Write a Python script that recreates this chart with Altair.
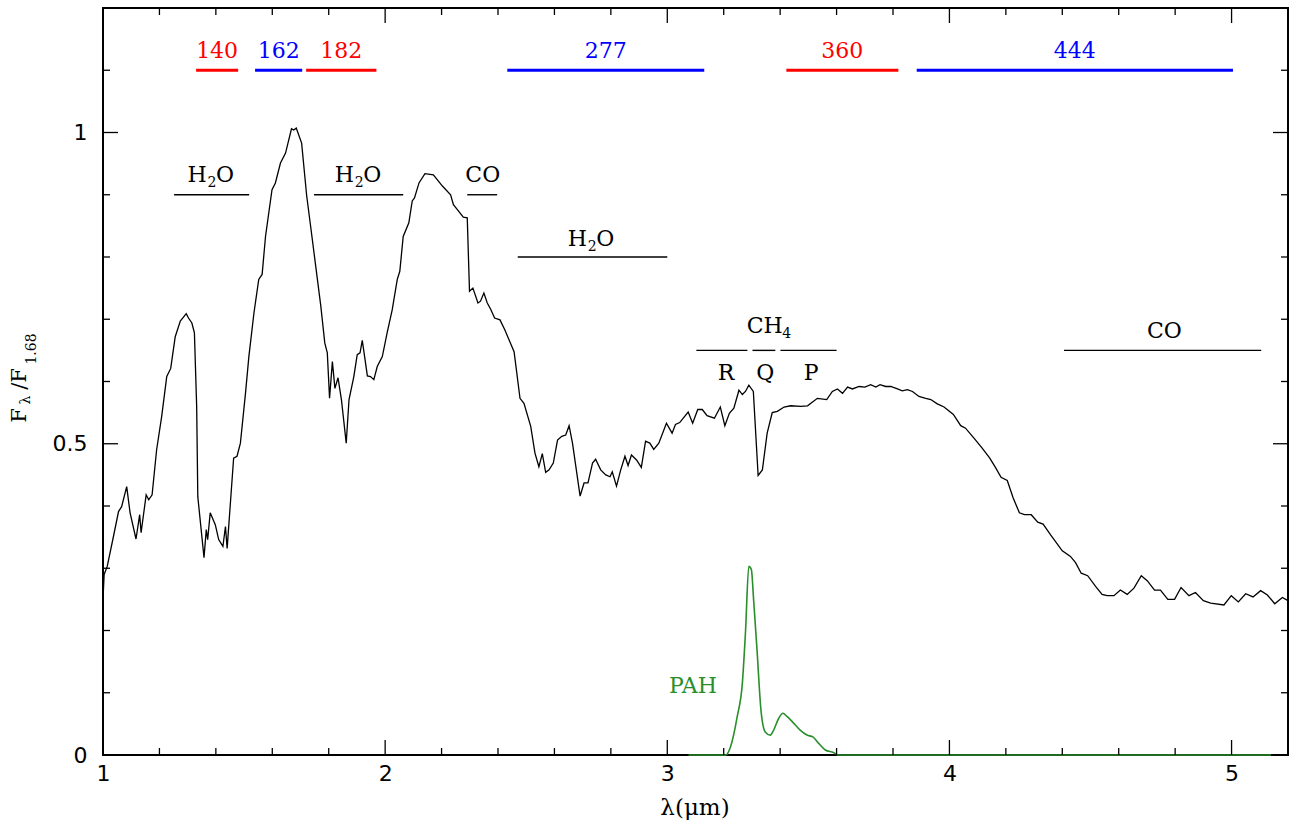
import altair as alt
import pandas as pd

# ---- spectrum (black) ----
lam = [1.000, 1.004, 1.015, 1.037, 1.055, 1.066, 1.084, 1.096, 1.117, 1.130, 1.135, 1.153, 1.162, 1.174,
       1.190, 1.208, 1.226, 1.240, 1.256, 1.274, 1.295, 1.303, 1.315, 1.324, 1.332, 1.336, 1.358, 1.366,
       1.371, 1.380, 1.398, 1.410, 1.425, 1.434, 1.440, 1.463, 1.475, 1.487, 1.505, 1.517, 1.535, 1.552,
       1.564, 1.576, 1.599, 1.611, 1.629, 1.647, 1.668, 1.676, 1.685, 1.704, 1.722, 1.736, 1.754, 1.772,
       1.786, 1.795, 1.803, 1.813, 1.822, 1.833, 1.845, 1.862, 1.872, 1.889, 1.901, 1.911, 1.919, 1.937,
       1.948, 1.960, 1.972, 1.990, 2.007, 2.025, 2.043, 2.052, 2.064, 2.084, 2.096, 2.104, 2.120, 2.141,
       2.171, 2.203, 2.232, 2.242, 2.256, 2.277, 2.291, 2.299, 2.311, 2.329, 2.338, 2.350, 2.362, 2.374,
       2.388, 2.407, 2.424, 2.457, 2.478, 2.492, 2.516, 2.531, 2.545, 2.557, 2.569, 2.581, 2.596, 2.611,
       2.626, 2.640, 2.652, 2.664, 2.691, 2.705, 2.719, 2.735, 2.746, 2.764, 2.782, 2.797, 2.805, 2.820,
       2.835, 2.850, 2.861, 2.873, 2.891, 2.908, 2.923, 2.938, 2.952, 2.970, 2.997, 3.017, 3.029, 3.044,
       3.074, 3.090, 3.108, 3.124, 3.141, 3.167, 3.188, 3.204, 3.220, 3.236, 3.254, 3.266, 3.277, 3.289,
       3.305, 3.322, 3.337, 3.354, 3.372, 3.390, 3.414, 3.437, 3.473, 3.497, 3.532, 3.565, 3.585, 3.603,
       3.621, 3.639, 3.656, 3.680, 3.700, 3.721, 3.739, 3.754, 3.774, 3.792, 3.816, 3.833, 3.851, 3.869,
       3.892, 3.916, 3.934, 3.957, 3.981, 4.014, 4.040, 4.057, 4.087, 4.116, 4.143, 4.163, 4.183, 4.205,
       4.226, 4.248, 4.266, 4.290, 4.313, 4.332, 4.358, 4.400, 4.429, 4.447, 4.467, 4.490, 4.518, 4.541,
       4.559, 4.583, 4.606, 4.630, 4.654, 4.680, 4.701, 4.727, 4.748, 4.774, 4.798, 4.821, 4.849, 4.872,
       4.900, 4.926, 4.973, 4.999, 5.024, 5.050, 5.076, 5.103, 5.127, 5.153, 5.180, 5.200]
flux = [0.250, 0.290, 0.303, 0.351, 0.391, 0.399, 0.431, 0.389, 0.347, 0.386, 0.357, 0.418, 0.410, 0.418,
        0.490, 0.544, 0.608, 0.621, 0.672, 0.697, 0.709, 0.702, 0.694, 0.678, 0.560, 0.415, 0.317, 0.362,
        0.346, 0.389, 0.370, 0.346, 0.335, 0.367, 0.332, 0.477, 0.480, 0.501, 0.581, 0.640, 0.710, 0.764,
        0.772, 0.833, 0.908, 0.919, 0.951, 0.967, 1.006, 1.004, 1.007, 0.983, 0.898, 0.849, 0.785, 0.721,
        0.662, 0.646, 0.573, 0.632, 0.589, 0.606, 0.571, 0.501, 0.571, 0.608, 0.643, 0.646, 0.666, 0.609,
        0.608, 0.603, 0.624, 0.640, 0.678, 0.715, 0.764, 0.777, 0.833, 0.855, 0.890, 0.895, 0.919, 0.934,
        0.932, 0.914, 0.900, 0.884, 0.876, 0.864, 0.863, 0.745, 0.750, 0.726, 0.729, 0.742, 0.726, 0.716,
        0.702, 0.699, 0.683, 0.648, 0.573, 0.565, 0.528, 0.485, 0.463, 0.484, 0.454, 0.458, 0.469, 0.506,
        0.512, 0.514, 0.529, 0.501, 0.416, 0.437, 0.437, 0.469, 0.475, 0.458, 0.450, 0.447, 0.455, 0.432,
        0.458, 0.480, 0.465, 0.482, 0.474, 0.462, 0.504, 0.501, 0.491, 0.501, 0.533, 0.517, 0.531, 0.534,
        0.551, 0.533, 0.555, 0.555, 0.545, 0.541, 0.559, 0.529, 0.549, 0.557, 0.586, 0.579, 0.584, 0.594,
        0.584, 0.449, 0.458, 0.517, 0.550, 0.552, 0.559, 0.561, 0.560, 0.561, 0.573, 0.571, 0.584, 0.588,
        0.581, 0.591, 0.588, 0.592, 0.591, 0.595, 0.591, 0.595, 0.592, 0.592, 0.588, 0.585, 0.587, 0.584,
        0.576, 0.573, 0.571, 0.564, 0.559, 0.547, 0.529, 0.525, 0.509, 0.493, 0.477, 0.462, 0.446, 0.441,
        0.413, 0.389, 0.386, 0.386, 0.374, 0.371, 0.354, 0.328, 0.319, 0.309, 0.292, 0.288, 0.271, 0.258,
        0.256, 0.256, 0.265, 0.258, 0.268, 0.288, 0.280, 0.265, 0.265, 0.250, 0.250, 0.269, 0.256, 0.261,
        0.248, 0.244, 0.241, 0.256, 0.246, 0.259, 0.254, 0.264, 0.257, 0.243, 0.253, 0.248]

# ---- PAH template (green) ----
pah_lam = [3.075, 3.207, 3.224, 3.248, 3.266, 3.277, 3.289, 3.298, 3.306, 3.318, 3.332, 3.347, 3.365,
           3.377, 3.395, 3.410, 3.424, 3.442, 3.471, 3.495, 3.516, 3.536, 3.560, 3.589, 3.607, 5.140]
pah_flux = [0.0, 0.0, 0.013, 0.062, 0.115, 0.196, 0.303, 0.298, 0.249, 0.169, 0.072, 0.037, 0.032,
            0.040, 0.059, 0.067, 0.062, 0.054, 0.040, 0.032, 0.029, 0.019, 0.008, 0.004, 0.0, 0.0]

# ---- filter bands (top) ----
band_labels = ["140", "162", "182", "277", "360", "444"]
band_lo = [1.330, 1.539, 1.720, 2.433, 3.422, 3.884]
band_hi = [1.479, 1.706, 1.969, 3.131, 3.819, 5.005]
band_colors = ["#ff0000", "#0000ff", "#ff0000", "#0000ff", "#ff0000", "#0000ff"]
band_level = 1.10
band_label_level = 1.119

# ---- molecular bands ----
mol_lo = [1.252, 1.748, 2.291, 2.470, 3.103, 3.302, 3.401, 4.406]
mol_hi = [1.518, 2.064, 2.397, 3.000, 3.284, 3.383, 3.600, 5.105]
mol_level = [0.90, 0.90, 0.90, 0.80, 0.65, 0.65, 0.65, 0.65]

# water labels (H2O with subscript)
h2o_x = [1.381, 1.903, 2.729]
h2o_y = [0.920, 0.920, 0.817]
# methane label (CH4 with subscript)
ch4_x = [3.361]
ch4_y = [0.678]
# plain labels
plain_text = ["CO", "R", "Q", "P", "CO"]
plain_x = [2.346, 3.208, 3.347, 3.510, 4.762]
plain_y = [0.920, 0.603, 0.603, 0.603, 0.670]

pah_text = ["PAH"]
pah_text_x = [3.091]
pah_text_y = [0.0997]

# ---- ticks ----
x_major = [1, 2, 3, 4, 5]
x_minor = [1.2, 1.4, 1.6, 1.8, 2.2, 2.4, 2.6, 2.8, 3.2, 3.4, 3.6, 3.8, 4.2, 4.4, 4.6, 4.8]
y_major = [0.0, 0.5, 1.0]
y_minor = [0.1, 0.2, 0.3, 0.4, 0.6, 0.7, 0.8, 0.9, 1.1]

W, H = 1185, 747
SERIF = "DejaVu Serif"
SANS = "DejaVu Sans"
FS = 22
SUB = 14

xs = alt.Scale(domain=[1, 5.2], nice=False, zero=False)
ys = alt.Scale(domain=[0, 1.2], nice=False, zero=False)
xaxis = alt.Axis(values=x_major, format="d", ticks=False, domain=False, grid=False, labelFlush=False,
                 labelFontSize=22, labelFont=SANS, labelColor="black", labelPadding=8, title=None)
yaxis = alt.Axis(values=y_major, format="~g", ticks=False, domain=False, grid=False, labelFlush=False,
                 labelFontSize=22, labelFont=SANS, labelColor="black", labelPadding=16, title=None)


def X(f):
    return alt.X(f, type="quantitative", scale=xs, axis=xaxis)


def Y(f):
    return alt.Y(f, type="quantitative", scale=ys, axis=yaxis)


spec_df = pd.DataFrame({"lam": lam, "flux": flux})
pah_df = pd.DataFrame({"lam": pah_lam, "flux": pah_flux})
band_df = pd.DataFrame({"lo": band_lo, "hi": band_hi, "lab": band_labels, "col": band_colors,
                        "mid": [(a + b) / 2 for a, b in zip(band_lo, band_hi)],
                        "lvl": [band_level] * len(band_lo), "tl": [band_label_level] * len(band_lo)})
mol_df = pd.DataFrame({"lo": mol_lo, "hi": mol_hi, "lvl": mol_level})
pahtext_df = pd.DataFrame({"x": pah_text_x, "y": pah_text_y, "t": pah_text})

spec = alt.Chart(spec_df).mark_line(color="black", strokeWidth=1.3).encode(x=X("lam"), y=Y("flux"))
pah = alt.Chart(pah_df).mark_line(color="#2a8f2a", strokeWidth=1.6, interpolate="monotone").encode(
    x=X("lam"), y=Y("flux"))

bands = alt.Chart(band_df).mark_rule(strokeWidth=3).encode(
    x=X("lo"), x2="hi", y=Y("lvl"), color=alt.Color("col:N", scale=None))
band_txt = alt.Chart(band_df).mark_text(font=SERIF, fontSize=FS, baseline="alphabetic", align="center").encode(
    x=X("mid"), y=Y("tl"), text="lab:N", color=alt.Color("col:N", scale=None))

mols = alt.Chart(mol_df).mark_rule(strokeWidth=1.4, color="black").encode(x=X("lo"), x2="hi", y=Y("lvl"))


def label_pieces(xv, yv, pieces):
    """pieces: list of (text, dx, dy, size) drawn with align left at data point."""
    out = []
    for txt, dx, dy, size in pieces:
        d = pd.DataFrame({"x": xv, "y": yv, "t": [txt] * len(xv)})
        out.append(alt.Chart(d).mark_text(font=SERIF, fontSize=size, baseline="alphabetic", align="left",
                                          color="black", dx=dx, dy=dy).encode(x=X("x"), y=Y("y"), text="t:N"))
    return out


h2o_layers = label_pieces(h2o_x, h2o_y, [("H", -23.0, 0, FS), ("2", -3.0, 5, SUB), ("O", 5.5, 0, FS)])
ch4_layers = label_pieces(ch4_x, ch4_y, [("CH", -22.5, 0, FS), ("4", 13.0, 5, SUB)])
plain_df = pd.DataFrame({"x": plain_x, "y": plain_y, "t": plain_text})
plain_txt = alt.Chart(plain_df).mark_text(font=SERIF, fontSize=FS, baseline="alphabetic", align="center",
                                          color="black").encode(x=X("x"), y=Y("y"), text="t:N")
pah_txt = alt.Chart(pahtext_df).mark_text(font=SERIF, fontSize=FS, baseline="alphabetic", align="center",
                                          color="#2a8f2a").encode(x=X("x"), y=Y("y"), text="t:N")


def xticks(vals, length):
    d = pd.DataFrame({"v": vals})
    bot = alt.Chart(d).mark_rule(color="black", strokeWidth=1.3).encode(
        x=X("v"), y=alt.value(H), y2=alt.value(H - length))
    top = alt.Chart(d).mark_rule(color="black", strokeWidth=1.3).encode(
        x=X("v"), y=alt.value(0), y2=alt.value(length))
    return [bot, top]


def yticks(vals, length):
    d = pd.DataFrame({"v": vals})
    left = alt.Chart(d).mark_rule(color="black", strokeWidth=1.3).encode(
        y=Y("v"), x=alt.value(0), x2=alt.value(length))
    right = alt.Chart(d).mark_rule(color="black", strokeWidth=1.3).encode(
        y=Y("v"), x=alt.value(W), x2=alt.value(W - length))
    return [left, right]


ticks = xticks(x_major, 15) + xticks(x_minor, 7) + yticks(y_major, 15) + yticks(y_minor, 7)

# axis titles as text (y title with sub-scripts)
title_df = pd.DataFrame({"t": ["F", "λ", "/F", "1.68"],
                         "px": [-83.5, -77.5, -83.5, -71.0],
                         "py": [407.5, 392.0, 371.0, 341.0],
                         "fs": [21, 14, 21, 14]})
ytitle_parts = []
for _, r in title_df.iterrows():
    ytitle_parts.append(
        alt.Chart(pd.DataFrame({"t": [r["t"]]})).mark_text(
            font=SERIF, fontSize=float(r["fs"]), angle=270, align="center", baseline="middle", color="black"
        ).encode(text="t:N", x=alt.value(float(r["px"])), y=alt.value(float(r["py"]))))

xtitle = alt.Chart(pd.DataFrame({"t": ["λ(μm)"]})).mark_text(
    font=SERIF, fontSize=23, align="center", baseline="middle", color="black"
).encode(text="t:N", x=alt.value(592), y=alt.value(800))

chart = alt.layer(
    spec, pah, bands, band_txt, mols, *h2o_layers, *ch4_layers, plain_txt, pah_txt,
    *ticks, *ytitle_parts, xtitle
).properties(
    width=W, height=H,
    autosize=alt.AutoSizeParams(type="none"),
    padding={"left": 103, "top": 8, "right": 11, "bottom": 72},
    background="white",
).configure_view(stroke="black", strokeWidth=2)

chart.save("out.html", embed_options={"renderer": "svg", "actions": False})
